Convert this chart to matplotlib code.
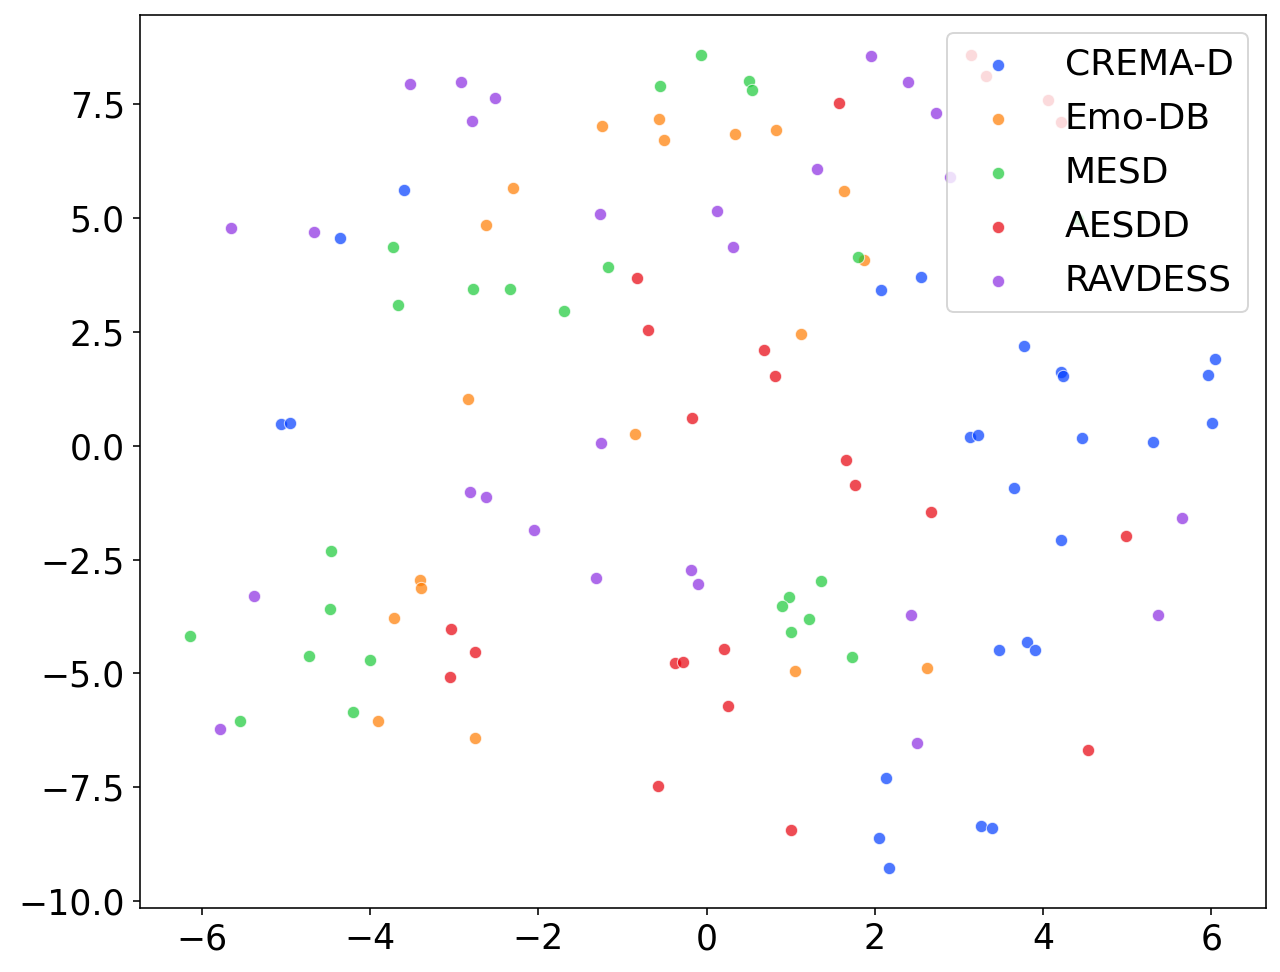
import matplotlib
matplotlib.use("Agg")
import matplotlib.pyplot as plt

datasets = ["CREMA-D", "Emo-DB", "MESD", "AESDD", "RAVDESS"]
colors = ["#023eff", "#ff7c00", "#1ac938", "#e8000b", "#8b2be2"]

crema_x = [-3.60, -4.36, -5.06, -4.95, 2.07, 2.55, 3.78, 4.21, 4.24, 6.04, 5.96, 6.01, 3.13,
           3.23, 4.46, 5.31, 3.65, 4.21, 3.48, 3.81, 3.90, 2.13, 2.05, 2.17, 3.26, 3.39]
crema_y = [5.62, 4.57, 0.48, 0.50, 3.41, 3.71, 2.20, 1.63, 1.54, 1.90, 1.56, 0.51, 0.19,
           0.24, 0.17, 0.09, -0.92, -2.07, -4.49, -4.32, -4.48, -7.29, -8.62, -9.27, -8.35, -8.39]

emodb_x = [-2.30, -2.62, -1.24, -0.57, -0.51, 0.34, 0.83, 1.63, 1.87, 1.12, -2.83, -0.85,
           -3.40, -3.39, -3.71, 1.05, -3.91, -2.75, 2.62]
emodb_y = [5.65, 4.85, 7.02, 7.18, 6.71, 6.84, 6.94, 5.60, 4.07, 2.45, 1.03, 0.26,
           -2.96, -3.13, -3.79, -4.95, -6.05, -6.42, -4.88]

mesd_x = [-0.06, -0.55, 0.51, 0.54, 1.80, -1.17, -1.69, -3.73, -2.78, -2.34, -3.67, -4.46,
          -4.47, 1.36, 0.98, 0.90, 1.22, 1.00, 1.73, -6.14, -4.73, -4.00, -4.20, -5.54, 4.42]
mesd_y = [8.59, 7.91, 8.01, 7.82, 4.15, 3.93, 2.96, 4.37, 3.45, 3.44, 3.10, -2.31,
          -3.58, -2.97, -3.32, -3.53, -3.80, -4.09, -4.63, -4.18, -4.62, -4.70, -5.85, -6.05, 4.97]

aesdd_x = [1.58, -0.83, -0.69, 0.68, 0.81, -0.17, 1.66, 1.77, 2.67, 4.99, 0.21, -0.37,
           -0.28, 0.26, -0.58, 1.01, -3.04, -2.75, -3.05, 4.54, 3.14, 3.32, 4.06, 4.21]
aesdd_y = [7.52, 3.68, 2.54, 2.10, 1.54, 0.61, -0.31, -0.87, -1.46, -1.99, -4.46, -4.78,
           -4.75, -5.72, -7.47, -8.45, -4.02, -4.53, -5.08, -6.68, 8.58, 8.12, 7.59, 7.12]

ravdess_x = [-3.52, -2.92, -2.52, -2.79, -5.65, -4.67, 1.96, 2.40, 2.73, 2.89, 1.31, -1.27,
             0.12, 0.32, -1.25, -2.81, -2.62, -2.05, -1.31, -0.18, -0.10, -5.38, 2.43, 5.37,
             5.65, 2.50, -5.78]
ravdess_y = [7.95, 7.99, 7.64, 7.14, 4.78, 4.69, 8.56, 7.99, 7.30, 5.91, 6.07, 5.09,
             5.16, 4.36, 0.06, -1.02, -1.12, -1.86, -2.91, -2.73, -3.03, -3.31, -3.71, -3.71,
             -1.58, -6.53, -6.23]

xs = [crema_x, emodb_x, mesd_x, aesdd_x, ravdess_x]
ys = [crema_y, emodb_y, mesd_y, aesdd_y, ravdess_y]

fig = plt.figure(figsize=(12.8, 9.72), dpi=100)
ax = fig.add_axes([0.109, 0.066, 0.880, 0.919])

for name, c, x, y in zip(datasets, colors, xs, ys):
    ax.scatter(x, y, s=78, color=c, alpha=0.7, edgecolor="white", linewidth=0.75, label=name)

ax.set_xlim(-6.74, 6.65)
ax.set_ylim(-10.15, 9.47)
ax.set_xticks([-6, -4, -2, 0, 2, 4, 6])
ax.set_yticks([-10.0, -7.5, -5.0, -2.5, 0.0, 2.5, 5.0, 7.5])
ax.set_yticklabels(["\u221210.0", "\u22127.5", "\u22125.0", "\u22122.5", "0.0", "2.5", "5.0", "7.5"])
ax.tick_params(labelsize=25, length=5, width=1.15, pad=5.5)
for sp in ax.spines.values():
    sp.set_linewidth(1.15)
leg = ax.legend(loc="upper right", fontsize=26, scatterpoints=1, handletextpad=0.85,
                labelspacing=0.56)
leg.get_frame().set_linewidth(1.4)

fig.savefig("out.png", dpi=100)
